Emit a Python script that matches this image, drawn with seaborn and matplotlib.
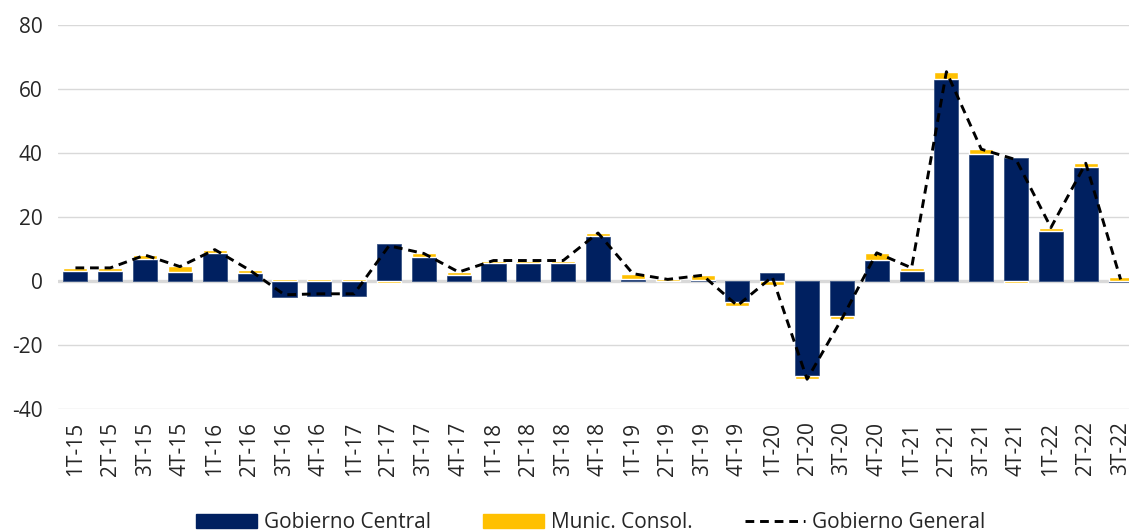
import numpy as np
import seaborn as sns
from matplotlib import pyplot as plt
from matplotlib.patches import Patch
from matplotlib.lines import Line2D

quarters = ['1T-15', '2T-15', '3T-15', '4T-15', '1T-16', '2T-16', '3T-16', '4T-16',
            '1T-17', '2T-17', '3T-17', '4T-17', '1T-18', '2T-18', '3T-18', '4T-18',
            '1T-19', '2T-19', '3T-19', '4T-19', '1T-20', '2T-20', '3T-20', '4T-20',
            '1T-21', '2T-21', '3T-21', '4T-21', '1T-22', '2T-22', '3T-22']
gob_central = [3.1, 3.1, 7.0, 2.9, 8.8, 2.4, -4.9, -4.6, -4.6, 11.7, 7.5, 1.8,
               5.5, 5.5, 5.5, 14.1, 0.5, 0.0, 0.2, -6.5, 2.5, -29.7, -10.9, 6.5,
               3.1, 63.2, 39.6, 38.5, 15.6, 35.7, -0.2]
munic_consol = [1.0, 1.0, 1.1, 1.8, 1.0, 1.0, 0.6, 0.6, 0.6, -0.7, 1.1, 1.0,
                0.9, 0.9, 0.9, 0.9, 1.8, 0.5, 1.6, -1.2, -1.2, -1.0, -0.9, 2.3,
                1.0, 2.2, 1.6, -0.6, 1.1, 1.1, 1.1]
gob_general = [4.1, 4.1, 8.1, 4.5, 9.8, 3.4, -4.3, -4.0, -4.0, 11.0, 8.6, 2.8,
               6.4, 6.4, 6.4, 15.0, 2.3, 0.5, 1.8, -7.7, 1.3, -30.7, -11.8, 8.8,
               4.1, 65.4, 41.2, 37.9, 16.7, 36.8, 0.5]

NAVY = '#002060'
GOLD = '#FFC000'
GRID = '#d9d9d9'

sns.set_style('white')
plt.rcParams['font.family'] = ['Open Sans', 'DejaVu Sans']
plt.rcParams['text.color'] = '#262626'
plt.rcParams['axes.unicode_minus'] = False

fig = plt.figure(figsize=(11.29, 5.32), dpi=100)
ax = fig.add_axes([0.0514, 0.2312, 0.9566, 0.7218])

bw = 0.69
sns.barplot(x=quarters, y=gob_central, color=NAVY, saturation=1, width=bw,
            edgecolor='#3a5585', linewidth=0.6, ax=ax, zorder=3)

# municipal part stacks on the same side as the central bar, else from zero
pos = np.arange(len(quarters))
bottoms = [g if (g > 0) == (m > 0) else 0 for g, m in zip(gob_central, munic_consol)]
ax.bar(pos, munic_consol, bottom=bottoms, width=bw, color=GOLD, zorder=3)

sns.lineplot(x=pos, y=gob_general, color='black', lw=2.1,
             linestyle=(0, (3, 2)), ax=ax, zorder=4)

ax.axhline(0, color=GRID, lw=2.4, zorder=2)
ax.set_ylim(-40, 80)
ax.set_xlim(-0.5, len(quarters) - 0.5)
ax.set_yticks(range(-40, 81, 20))
ax.yaxis.grid(True, color=GRID, lw=1)
ax.set_axisbelow(True)
for s in ax.spines.values():
    s.set_visible(False)
ax.tick_params(axis='y', length=0, pad=11, labelsize=15, labelcolor='#262626')
ax.tick_params(axis='x', length=0, pad=9, labelsize=15, labelcolor='#262626',
               labelrotation=90)
ax.set_xlabel('')
ax.set_ylabel('')

handles = [Patch(color=NAVY), Patch(color=GOLD),
           Line2D([], [], color='black', lw=2.1, linestyle=(0, (3, 2)))]
labels = ['Gobierno Central', 'Munic. Consol.', 'Gobierno General']
fig.legend(handles, labels, loc='lower center', bbox_to_anchor=(0.5235, -0.022),
           ncol=3, frameon=False, fontsize=15, handlelength=2.9, handleheight=0.7,
           handletextpad=0.35, columnspacing=2.5, borderpad=0)

plt.savefig('out.png', dpi=100)
